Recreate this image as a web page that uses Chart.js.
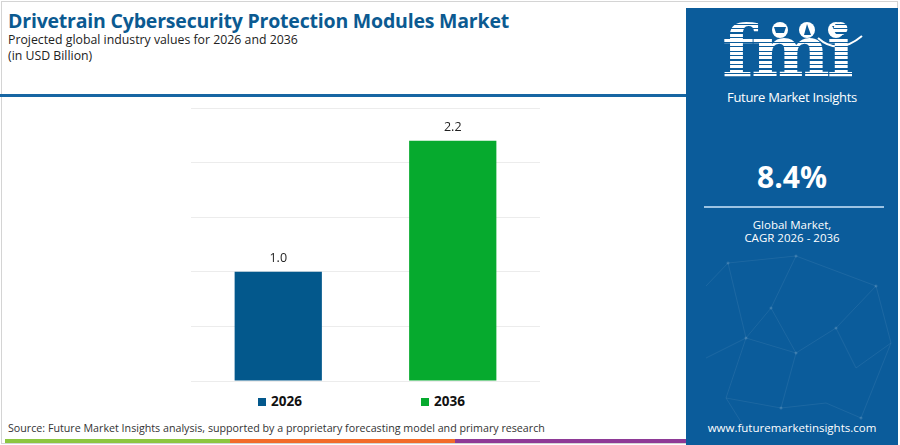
<!DOCTYPE html>
<html>
<head>
<meta charset="utf-8">
<script src="https://cdn.jsdelivr.net/npm/chart.js@4.4.1/dist/chart.umd.min.js"></script>
<style>
    html, body {
        margin: 0;
        padding: 0;
        width: 900px;
        height: 445px;
        overflow: hidden;
        background: #ffffff;
        font-family: "Open Sans", sans-serif;
    }

    #frame {
        position: absolute;
        left: 1px;
        top: 1px;
        width: 897px;
        height: 443px;
        border: 1px solid #d4d4d4;
        box-sizing: border-box;
    }

    #title {
        position: absolute;
        left: 8px;
        top: 7px;
        font-size: 19.5px;
        font-weight: 700;
        color: #0b5a91;
        letter-spacing: -0.2px;
        white-space: nowrap;
    }

    .sub {
        position: absolute;
        left: 8px;
        font-size: 12.3px;
        color: #222;
        white-space: nowrap;
    }

    #rule {
        position: absolute;
        left: 0;
        top: 94px;
        width: 688px;
        height: 3px;
        background: #1766a3;
    }

    #chartBox {
        position: absolute;
        left: 191px;
        top: 104px;
        width: 349px;
        height: 278px;
    }

    #legend {
        position: absolute;
        top: 392px;
        left: 0;
        width: 690px;
        height: 18px;
    }

    .legendItem {
        position: absolute;
        top: 0;
        font-size: 13.5px;
        font-weight: 700;
        color: #111;
        white-space: nowrap;
        line-height: 18px;
    }

    .legendItem span {
        display: inline-block;
        width: 8px;
        height: 8px;
        margin-right: 5px;
        vertical-align: 0px;
    }

    #source {
        position: absolute;
        left: 8px;
        top: 421px;
        font-size: 10.7px;
        color: #333;
        white-space: nowrap;
    }

    .stripe {
        position: absolute;
        top: 439px;
        height: 4px;
    }

    #panel {
        position: absolute;
        left: 686px;
        top: 8px;
        width: 212px;
        height: 437px;
        background: #0b5c9b;
        overflow: hidden;
        color: #ffffff;
        text-align: center;
    }

    #logo {
        position: absolute;
        left: 36px;
        top: 8px;
        font-family: "DejaVu Serif", serif;
        font-weight: 700;
        font-size: 71px;
        line-height: 71px;
        letter-spacing: -3px;
        color: transparent;
        transform: scale(1.05, 1);
        transform-origin: left top;
        background: repeating-linear-gradient(to bottom, #ffffff 0px, #ffffff 3px, #0b5c9b 3px, #0b5c9b 4.5px);
        -webkit-background-clip: text;
        background-clip: text;
    }

    #brand {
        position: absolute;
        left: 0;
        top: 80px;
        width: 100%;
        font-size: 13px;
        color: #ffffff;
        letter-spacing: -0.3px;
    }

    #cagr {
        position: absolute;
        left: 0;
        top: 148px;
        width: 100%;
        font-size: 30px;
        font-weight: 700;
    }

    #cagrRule {
        position: absolute;
        left: 18px;
        top: 198px;
        width: 180px;
        height: 2px;
        background: #9cc3e3;
    }

    #cagrText {
        position: absolute;
        left: 0;
        top: 210px;
        width: 100%;
        font-size: 11.5px;
        line-height: 13px;
    }

    #url {
        position: absolute;
        left: 0;
        top: 412px;
        width: 100%;
        font-size: 11.5px;
    }
</style>
</head>
<body>
<div id="frame"></div>

<div id="title">Drivetrain Cybersecurity Protection Modules Market</div>
<div class="sub" style="top: 31px;">Projected global industry values for 2026 and 2036</div>
<div class="sub" style="top: 47px;">(in USD Billion)</div>
<div id="rule"></div>

<div id="chartBox"><canvas id="marketChart"></canvas></div>
<div id="legend"></div>

<div id="source">Source: Future Market Insights analysis, supported by a proprietary forecasting model and primary research</div>
<div class="stripe" style="left: 5px; width: 225px; background: #8cc63f;"></div>
<div class="stripe" style="left: 230px; width: 225px; background: #f26b2a;"></div>
<div class="stripe" style="left: 455px; width: 231px; background: #8e3a96;"></div>

<div id="panel">
    <svg width="212" height="437" style="position:absolute;left:0;top:0;">
        <g stroke="#ffffff" stroke-opacity="0.07" stroke-width="1" fill="none">
            <polyline points="20,278 42,255 60,330 40,390 62,425"></polyline>
            <polyline points="42,255 110,248 190,278 205,335 175,410"></polyline>
            <polyline points="60,330 110,345 150,320 190,278"></polyline>
            <polyline points="110,248 85,300 110,345 95,400 140,395 175,410"></polyline>
            <polyline points="150,320 170,360 205,335"></polyline>
            <polyline points="40,390 95,400"></polyline>
            <polyline points="20,350 60,330 85,300"></polyline>
        </g>
        <g fill="#ffffff" fill-opacity="0.15">
            <circle cx="42" cy="255" r="1.5"></circle>
            <circle cx="110" cy="248" r="1.5"></circle>
            <circle cx="190" cy="278" r="1.5"></circle>
            <circle cx="60" cy="330" r="1.5"></circle>
            <circle cx="110" cy="345" r="1.5"></circle>
            <circle cx="150" cy="320" r="1.5"></circle>
            <circle cx="85" cy="300" r="1.5"></circle>
            <circle cx="95" cy="400" r="1.5"></circle>
            <circle cx="175" cy="410" r="1.5"></circle>
        </g>
        <g fill="#ffffff">
            <circle cx="94" cy="22" r="8"></circle>
            <circle cx="121" cy="22" r="8"></circle>
            <circle cx="150" cy="22" r="8"></circle>
        </g>
        <g fill="#0b5c9b">
            <path d="M88,19 L100,19 L98,25 L90,25 Z"></path>
            <path d="M118,27 L121,16 L125,27 Z"></path>
            <path d="M146,18 L155,18 L151,26 Z"></path>
        </g>
        <path d="M132,30 Q152,48 176,28" stroke="#ffffff" stroke-width="2" fill="none"></path>
    </svg>
    <div id="logo">fmi</div>
    <div id="brand">Future Market Insights</div>
    <div id="cagr">8.4%</div>
    <div id="cagrRule"></div>
    <div id="cagrText">Global Market,<br>CAGR 2026 - 2036</div>
    <div id="url">www.futuremarketinsights.com</div>
</div>

<script>
    // chart values
    const years = ["2026", "2036"];
    const marketValues = [1.0, 2.2];
    const barColors = ["#03588c", "#06aa2e"];
    const yTicks = [0, 0.5, 1.0, 1.5, 2.0, 2.5];

    // legend positions (px from left) match the reference layout
    const legendLeft = [258, 421];

    const valueLabels = {
        id: "valueLabels",
        afterDatasetsDraw(chart) {
            const ctx = chart.ctx;
            ctx.save();
            ctx.font = "12.5px 'Open Sans', sans-serif";
            ctx.fillStyle = "#222222";
            ctx.textAlign = "center";
            ctx.textBaseline = "middle";
            chart.data.datasets.forEach((ds, i) => {
                const meta = chart.getDatasetMeta(i);
                meta.data.forEach((bar, j) => {
                    const v = ds.data[j];
                    if (v === null) {
                        return;
                    }
                    ctx.fillText(v.toFixed(1), bar.x, bar.y - 13);
                });
            });
            ctx.restore();
        },
    };

    const datasets = years.map((year, i) => ({
        label: year,
        data: years.map((_, j) => (i === j ? marketValues[i] : null)),
        backgroundColor: barColors[i],
        borderWidth: 0,
        grouped: false,
        barPercentage: 0.5,
        categoryPercentage: 1.0,
    }));

    new Chart(document.getElementById("marketChart").getContext("2d"), {
        type: "bar",
        data: {
            labels: years,
            datasets: datasets,
        },
        options: {
            responsive: true,
            maintainAspectRatio: false,
            animation: false,
            layout: {
                padding: { top: 4, bottom: 1, left: 0, right: 0 },
            },
            scales: {
                x: {
                    grid: { display: false, drawTicks: false },
                    border: { display: false },
                    ticks: { display: false },
                },
                y: {
                    min: yTicks[0],
                    max: yTicks[yTicks.length - 1],
                    afterBuildTicks(axis) {
                        axis.ticks = yTicks.map((v) => ({ value: v }));
                    },
                    grid: { color: "#ececec", lineWidth: 1, drawTicks: false },
                    border: { display: false },
                    ticks: { display: false },
                },
            },
            plugins: {
                legend: { display: false },
                tooltip: { enabled: false },
            },
        },
        plugins: [valueLabels],
    });

    const legendBox = document.getElementById("legend");
    years.forEach((year, i) => {
        const item = document.createElement("div");
        item.className = "legendItem";
        item.style.left = legendLeft[i] + "px";
        item.innerHTML = '<span style="background:' + barColors[i] + '"></span>' + year;
        legendBox.appendChild(item);
    });
</script>
</body>
</html>
